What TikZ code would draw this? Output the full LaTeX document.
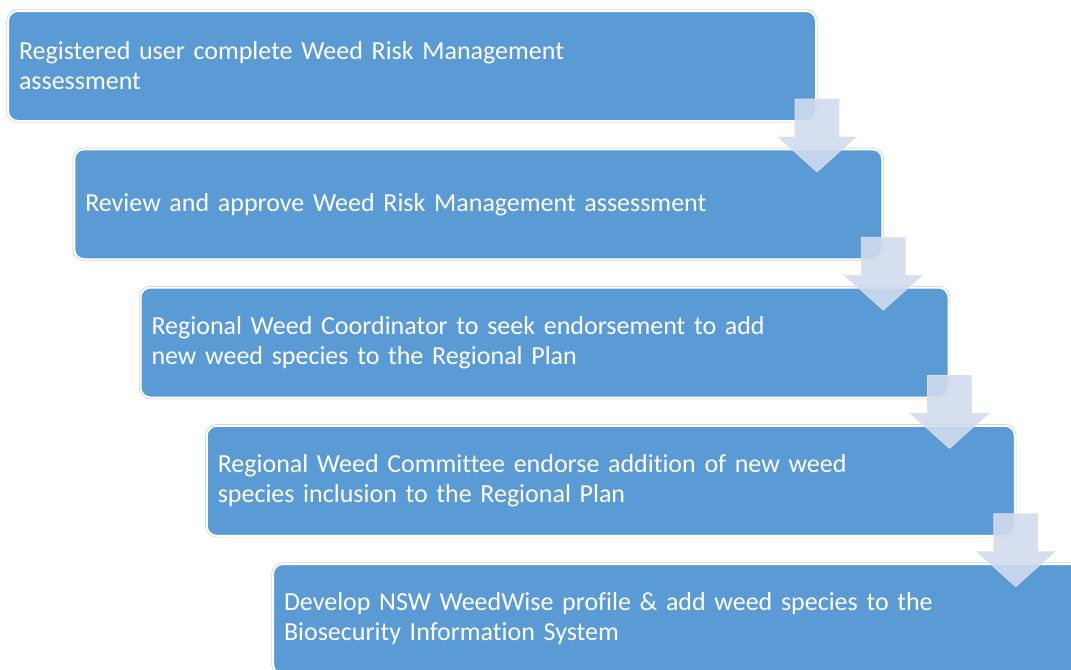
\documentclass[tikz,border=0pt]{standalone}
\usepackage{fontspec}
\setmainfont{Carlito}[Ligatures=NoCommon]
\usepackage{tikz}
\usetikzlibrary{calc,positioning}

\definecolor{boxblue}{RGB}{91,155,213}
\definecolor{arrowfill}{RGB}{208,219,238}

\tikzset{
  stepbox/.style={rectangle, rounded corners=7.5pt, anchor=north west,
    fill=boxblue, draw=white, line width=1.5pt,
    preaction={draw=black!18, line width=2.6pt},
    minimum width=606pt, minimum height=82.5pt,
    text width=589.5pt, inner xsep=8.25pt, align=left,
    text=white, font=\fontsize{19.5}{22.5}\selectfont},
  flowarrow/.style={fill=arrowfill, fill opacity=0.9, draw=black!12, line width=0.4pt}
}

\begin{document}
\begin{tikzpicture}[x=0.75pt,y=-0.75pt]
\useasboundingbox (0,0) rectangle (1071,669);

  % the five steps
  \node[stepbox] (assess) at (7,10) {Registered user complete Weed Risk Management\\assessment};
  \node[stepbox] (review) at (73.25,148.25) {Review and approve Weed Risk Management assessment};
  \node[stepbox] (coord) at (139.5,286.5) {Regional Weed Coordinator to seek endorsement to add\\new weed species to the Regional Plan};
  \node[stepbox] (commit) at (205.75,424.75) {Regional Weed Committee endorse addition of new weed\\species inclusion to the Regional Plan};
  \node[stepbox] (profile) at (272,563) {Develop NSW WeedWise profile \& add weed species to the\\Biosecurity Information System};

  % arrows down the steps
  \draw[flowarrow, shift={(assess.south east)}] (-22,-23) -- (22,-23) -- (22,15) -- (39,15) -- (0,50) -- (-39,15) -- (-22,15) -- cycle;
  \draw[flowarrow, shift={(review.south east)}] (-22,-23) -- (22,-23) -- (22,15) -- (39,15) -- (0,50) -- (-39,15) -- (-22,15) -- cycle;
  \draw[flowarrow, shift={(coord.south east)}] (-22,-23) -- (22,-23) -- (22,15) -- (39,15) -- (0,50) -- (-39,15) -- (-22,15) -- cycle;
  \draw[flowarrow, shift={(commit.south east)}] (-22,-23) -- (22,-23) -- (22,15) -- (39,15) -- (0,50) -- (-39,15) -- (-22,15) -- cycle;

\end{tikzpicture}
\end{document}
